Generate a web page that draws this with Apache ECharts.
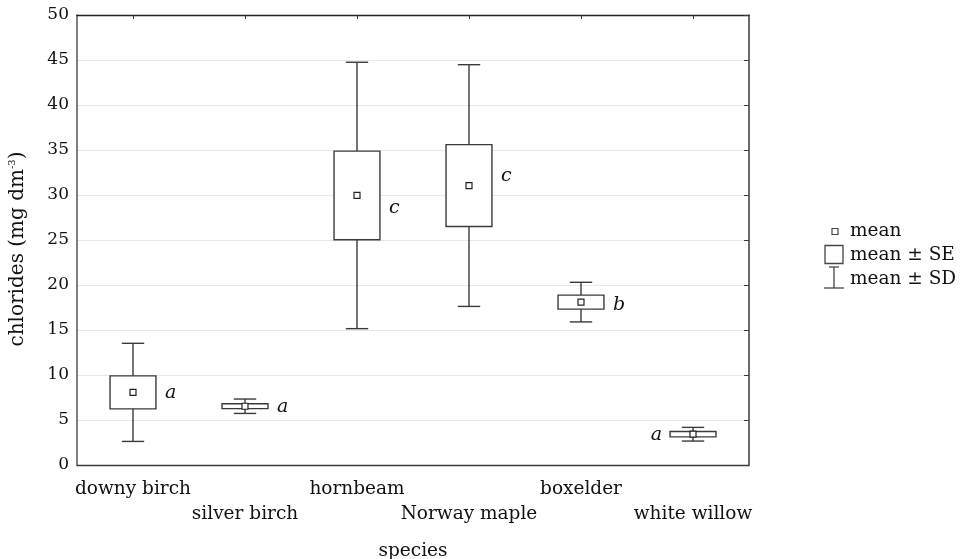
<!DOCTYPE html>
<html><head><meta charset="utf-8">
<script src="https://cdn.jsdelivr.net/npm/echarts@6/dist/echarts.min.js"></script>
<style>html,body{margin:0;padding:0;background:#fff}#c{width:962px;height:559px}</style>
</head><body><div id="c"></div>
<script>
const categories = ['downy birch','silver birch','hornbeam','Norway maple','boxelder','white willow'];
const means = [8.07, 6.53, 29.95, 31.05, 18.1, 3.42];
const ses   = [1.83, 0.27, 4.93, 4.55, 0.78, 0.30];
const sds   = [5.45, 0.80, 14.80, 13.43, 2.20, 0.76];
const letters = ['a','a','c','c','b','a'];
const letterAt = [8.0, 6.4, 28.6, 32.1, 17.8, 3.3];
const letterSide = ['right','right','right','right','right','left'];

const FONT = 'DejaVu Serif';
const LC = '#3a3a3a';
const chart = echarts.init(document.getElementById('c'));
const data = categories.map((c,i)=>[i, means[i], ses[i], sds[i], letterAt[i]]);

chart.setOption({
  animation:false,
  backgroundColor:'#fff',
  grid:{left:77, right:213, top:15, bottom:94, containLabel:false, outerBoundsMode:'none'},
  xAxis:[{
    type:'category', data:categories, position:'bottom',
    axisLine:{onZero:false, lineStyle:{color:LC,width:1.3}},
    axisTick:{inside:true, length:5, alignWithLabel:true, lineStyle:{color:LC}},
    axisLabel:{interval:0, color:'#111', fontFamily:FONT, fontSize:18.5, margin:12, lineHeight:25,
      formatter:(v,i)=> (i%2 ? '\n'+v : v)},
    name:'species', nameLocation:'middle', nameGap:77,
    nameTextStyle:{color:'#111', fontFamily:FONT, fontSize:18.5}
  },{
    type:'category', data:categories, position:'top',
    axisLine:{show:true, onZero:false, lineStyle:{color:'#222',width:1.3}},
    axisTick:{show:true, inside:true, length:4, alignWithLabel:true, lineStyle:{color:LC}},
    axisLabel:{show:false}
  }],
  yAxis:[{
    type:'value', min:0, max:50, interval:5,
    axisLine:{show:true, onZero:false, lineStyle:{color:'#555',width:1.5}},
    axisTick:{show:false},
    axisLabel:{color:'#111', fontFamily:FONT, fontSize:17, margin:8},
    splitLine:{show:true, lineStyle:{color:'#e8e8e8', width:1}},
    name:'{t|chlorides (mg dm}{s|-3}{t|)}', nameLocation:'middle', nameGap:48,
    nameTextStyle:{padding:[0,18,0,0], rich:{t:{fontFamily:FONT, fontSize:20, color:'#111'}, s:{fontFamily:FONT, fontSize:10, color:'#111', verticalAlign:'top', padding:[0,0,12,0]}}}
  },{
    type:'value', min:0, max:50, interval:5, position:'right',
    axisLine:{show:true, onZero:false, lineStyle:{color:LC,width:1.5}},
    axisTick:{show:true, inside:true, length:5, lineStyle:{color:LC}},
    axisLabel:{show:false}, splitLine:{show:false}
  }],
  series:[{
    type:'custom',
    xAxisIndex:0, yAxisIndex:0,
    data:data,
    encode:{x:0, y:1},
    renderItem:function(params, api){
      const i = api.value(0), m = api.value(1), se = api.value(2), sd = api.value(3), la = api.value(4);
      const c = api.coord([i, m]);
      const x = c[0], yM = c[1];
      const yH = api.coord([i, m+se])[1], yL = api.coord([i, m-se])[1];
      const dH = api.coord([i, m+sd])[1], dL = api.coord([i, m-sd])[1];
      const band = api.size([1,0])[0];
      const bw = band*0.41, cap = band*0.2, ms = 6;
      const st = {stroke:LC, lineWidth:1.4, fill:null};
      const ch = [
        {type:'line', shape:{x1:x,y1:dH,x2:x,y2:dL}, style:st},
        {type:'line', shape:{x1:x-cap/2,y1:dH,x2:x+cap/2,y2:dH}, style:st},
        {type:'line', shape:{x1:x-cap/2,y1:dL,x2:x+cap/2,y2:dL}, style:st},
        {type:'rect', shape:{x:x-bw/2,y:yH,width:bw,height:yL-yH}, style:{stroke:LC,lineWidth:1.4,fill:'#fff'}},
        {type:'rect', shape:{x:x-ms/2,y:yM-ms/2,width:ms,height:ms}, style:{stroke:'#222',lineWidth:1.2,fill:'#fff'}}
      ];
      const side = letterSide[params.dataIndex];
      const ly = api.coord([i, la])[1];
      ch.push({type:'text', style:{
        text:letters[params.dataIndex],
        x: side==='right' ? x+bw/2+9 : x-bw/2-8,
        y: ly,
        align: side==='right' ? 'left' : 'right',
        verticalAlign:'middle',
        font:'italic 19px "' + FONT + '"',
        fill:'#111'
      }});
      return {type:'group', children:ch};
    }
  }],
  graphic:[
    {type:'rect', shape:{x:832,y:228.5,width:6,height:6}, style:{stroke:'#444',lineWidth:1.2,fill:'#fff'}},
    {type:'text', style:{text:'mean', x:850, y:231, verticalAlign:'middle', font:'18.5px "'+FONT+'"', fill:'#111'}},
    {type:'rect', shape:{x:825,y:245.5,width:18,height:18}, style:{stroke:'#444',lineWidth:1.3,fill:'#fff'}},
    {type:'text', style:{text:'mean ± SE', x:850, y:255, verticalAlign:'middle', font:'18.5px "'+FONT+'"', fill:'#111'}},
    {type:'line', shape:{x1:834,y1:267,x2:834,y2:288}, style:{stroke:'#444',lineWidth:1.3}},
    {type:'line', shape:{x1:829,y1:267,x2:839,y2:267}, style:{stroke:'#444',lineWidth:1.3}},
    {type:'line', shape:{x1:824,y1:288,x2:844,y2:288}, style:{stroke:'#444',lineWidth:1.3}},
    {type:'text', style:{text:'mean ± SD', x:850, y:279, verticalAlign:'middle', font:'18.5px "'+FONT+'"', fill:'#111'}}
  ]
});
</script></body></html>
